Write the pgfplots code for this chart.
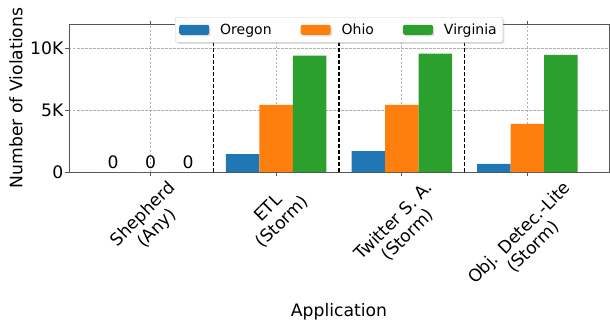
\documentclass[border=0pt]{standalone}
\usepackage{pgfplots}
\pgfplotsset{compat=1.18}
\usepackage{fontspec}
\setmainfont{DejaVu Sans}
\usetikzlibrary{shadows}

\definecolor{oregon}{HTML}{1F77B4}
\definecolor{ohio}{HTML}{FF7F0E}
\definecolor{virginia}{HTML}{2CA02C}
\definecolor{gridgray}{HTML}{B0B0B0}
\definecolor{spine}{HTML}{555555}

% two-line category label, rotated as a whole so that its box is centred under the tick
\newcommand{\applab}[2]{\rotatebox{45}{\begin{tabular}{@{}c@{}}#1\\[-1pt]#2\end{tabular}}}

\begin{document}
\begin{tikzpicture}
\path[use as bounding box] (-69pt,-150pt) rectangle (541pt,172pt);
\begin{axis}[
  at={(0pt,0pt)}, anchor=south west,
  scale only axis, width=540pt, height=148pt,
  xmin=-0.65, xmax=3.65, ymin=0, ymax=12000,
  ybar=0pt, bar width=0.2667,
  font=\fontsize{17.2}{20.5}\selectfont,
  /pgf/number format/assume math mode=true,
  scaled y ticks=false,
  xtick={0,1,2,3},
  xticklabels={\applab{Shepherd}{(Any)},\applab{ETL}{(Storm)},\applab{Twitter S. A.}{(Storm)},\applab{Obj. Detec.-Lite}{(Storm)}},
  xticklabel style={anchor=north, inner sep=0pt, yshift=-3pt},
  ytick={0,5000,10000}, yticklabels={0,5K,10K},
  yticklabel style={inner sep=2pt},
  tick align=outside, major tick length=3.5pt,
  tick style={draw=spine, line width=0.8pt},
  axis line style={draw=spine, line width=0.8pt},
  grid=major,
  major grid style={draw=gridgray, line width=0.6pt, dash pattern=on 2.5pt off 1.5pt},
  xlabel={Application}, ylabel={Number of Violations},
  xlabel style={at={(axis description cs:0.5,-0.946)}, anchor=center},
  ylabel style={at={(axis description cs:-0.098,0.5)}, anchor=center},
  legend columns=3,
  legend style={at={(0.5,1)}, anchor=north, yshift=7pt,
    font=\fontsize{14}{16}\selectfont,
    draw=black!20, fill=white, rounded corners=2pt,
    drop shadow={shadow xshift=1.5pt, shadow yshift=-1.5pt, opacity=0.25},
    inner xsep=4pt, inner ysep=4.5pt,
    /tikz/every odd column/.append style={column sep=9pt},
    /tikz/every even column/.append style={column sep=27pt}},
  nodes near coords style={anchor=south, inner sep=1pt, yshift=2pt, font=\fontsize{17.2}{20.5}\selectfont},
  patch/.style={legend image code/.code={\fill[##1, draw=none] (0pt,-5pt) rectangle (30pt,5pt);}},
]
% region bars
\addplot[fill=oregon, draw=none, bar shift=-0.2667, patch]
  coordinates {(0,0) (1,1450) (2,1700) (3,650)};
\addplot[fill=ohio, draw=none, bar shift=0, patch]
  coordinates {(0,0) (1,5450) (2,5450) (3,3900)};
\addplot[fill=virginia, draw=none, bar shift=0.2667, patch]
  coordinates {(0,0) (1,9430) (2,9600) (3,9500)};
\legend{Oregon,Ohio,Virginia}
% value labels for the empty Shepherd group
\addplot[draw=none, fill=none, bar shift=-0.2667, nodes near coords, nodes near coords style={xshift=-4pt}, forget plot] coordinates {(0,0)};
\addplot[draw=none, fill=none, bar shift=0, nodes near coords, forget plot] coordinates {(0,0)};
\addplot[draw=none, fill=none, bar shift=0.2667, nodes near coords, nodes near coords style={xshift=4pt}, forget plot] coordinates {(0,0)};
% group separators
\addplot[sharp plot, black, line width=1.1pt, dash pattern=on 4pt off 2pt, forget plot] coordinates {(0.5,0) (0.5,12000)};
\addplot[sharp plot, black, line width=1.1pt, dash pattern=on 4pt off 2pt, forget plot] coordinates {(1.5,0) (1.5,12000)};
\addplot[sharp plot, black, line width=1.1pt, dash pattern=on 4pt off 2pt, forget plot] coordinates {(2.5,0) (2.5,12000)};
\end{axis}
\end{tikzpicture}
\end{document}
